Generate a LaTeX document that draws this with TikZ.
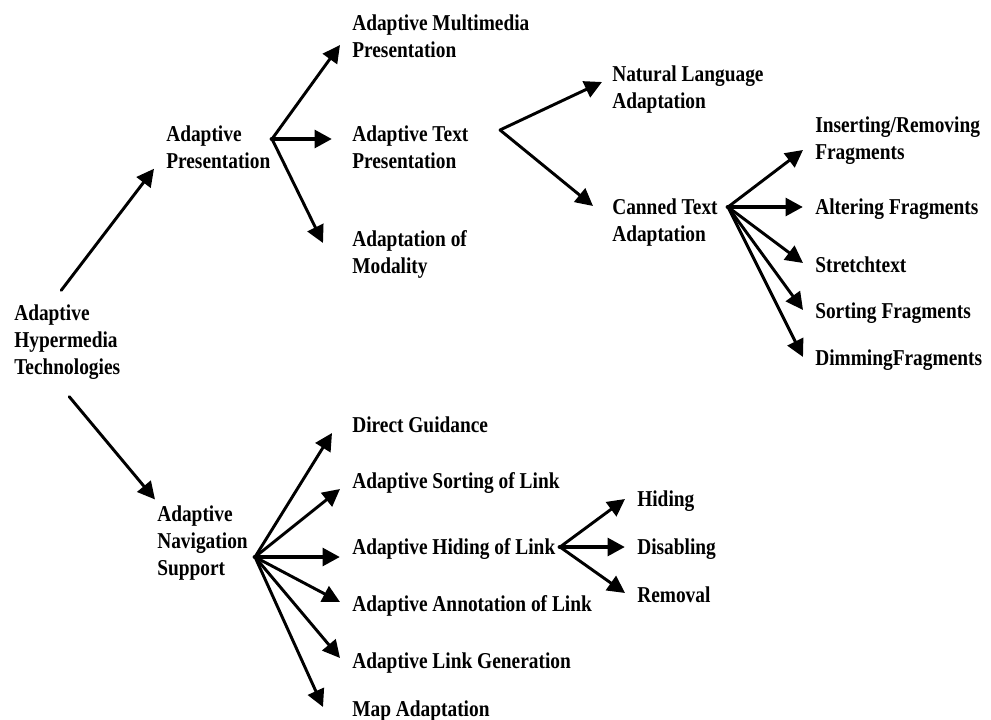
\documentclass[tikz,border=0pt]{standalone}
\usepackage{fontspec}
\setmainfont{Liberation Serif}[FakeStretch=0.855]
\usetikzlibrary{arrows.meta,calc}
\tikzset{
  lbl/.style={font=\bfseries\fontsize{17pt}{20.25pt}\selectfont,
            align=left,anchor=west,inner sep=0pt},
  br/.style={-{Triangle[length=13pt,width=13pt]},line width=2.2pt,line cap=round},
  brmain/.style={br,line width=3.6pt},
}

\begin{document}
\begin{tikzpicture}[x=0.75pt,y=-0.75pt]
  \useasboundingbox (0,0) rectangle (991,720);
  % levels 1 and 2
  \node[lbl] (aht) at (14,342)  {Adaptive\\Hypermedia\\Technologies};
  \node[lbl] (ap)  at (166,147) {Adaptive\\Presentation};
  \node[lbl] (ans) at (157,543) {Adaptive\\Navigation\\Support};
  % presentation side
  \node[lbl] (amp) at (352,36)  {Adaptive Multimedia\\Presentation};
  \node[lbl] (atp) at (352,147) {Adaptive Text\\Presentation};
  \node[lbl] (aom) at (352,254) {Adaptation of\\Modality};
  \node[lbl] (nla) at (612,89.5) {Natural Language\\Adaptation};
  \node[lbl] (cta) at (612,222.5) {Canned Text\\Adaptation};
  \node[lbl] (irf) at (815,140.5) {Inserting/Removing\\Fragments};
  \node[lbl] (alf) at (815,209) {Altering Fragments};
  \node[lbl] (stx) at (815,265) {Stretchtext};
  \node[lbl] (sof) at (815,313) {Sorting Fragments};
  \node[lbl] (dmf) at (815,360) {DimmingFragments};
  % navigation side
  \node[lbl] (dg)  at (352,425) {Direct Guidance};
  \node[lbl] (asl) at (352,483) {Adaptive Sorting of Link};
  \node[lbl] (ahl) at (352,549) {Adaptive Hiding of Link};
  \node[lbl] (aal) at (352,606) {Adaptive Annotation of Link};
  \node[lbl] (alg) at (352,663) {Adaptive Link Generation};
  \node[lbl] (mpa) at (352,711) {Map Adaptation};
  \node[lbl] (hid) at (637,501) {Hiding};
  \node[lbl] (dis) at (637,549) {Disabling};
  \node[lbl] (rem) at (637,595) {Removal};

  % fan origins
  \coordinate (apfan) at (272,139);
  \coordinate (atfan) at (500,130);
  \coordinate (ctfan) at (728,207);
  \coordinate (nsfan) at (255,557);
  \coordinate (hlfan) at (560,547);

  \draw[br] ($(aht.north)+(-6,-14)$) -- ($(ap.south west)+(-12,0)$);
  \draw[br] ($(aht.south)+(2,17)$) -- ($(ans.north west)+(-2,-6)$);

  \draw[br]     (apfan) -- ($(amp.west)+(-12,9)$);
  \draw[brmain] (apfan) -- ($(atp.west)+(-20,-8)$);
  \draw[br]     (apfan) -- ($(aom.west)+(-29,-11)$);

  \draw[br] (atfan) -- ($(nla.west)+(-10,-7.5)$);
  \draw[br] (atfan) -- ($(cta.west)+(-19,-16.5)$);

  \draw[br]     (ctfan) -- ($(irf.west)+(-12,9.5)$);
  \draw[brmain] (ctfan) -- ($(alf.west)+(-12,-2)$);
  \draw[br]     (ctfan) -- ($(stx.west)+(-12,-2)$);
  \draw[br]     (ctfan) -- ($(sof.west)+(-12,-3)$);
  \draw[br]     (ctfan) -- ($(dmf.west)+(-12,-3)$);

  \draw[br]     (nsfan) -- ($(dg.west)+(-20,8)$);
  \draw[br]     (nsfan) -- ($(asl.west)+(-12,6)$);
  \draw[brmain] (nsfan) -- ($(ahl.west)+(-12,8)$);
  \draw[br]     (nsfan) -- ($(aal.west)+(-12,-4)$);
  \draw[br]     (nsfan) -- ($(alg.west)+(-12,-5)$);
  \draw[br]     (nsfan) -- ($(mpa.west)+(-29,-4)$);

  \draw[br]     (hlfan) -- ($(hid.west)+(-12,-2)$);
  \draw[brmain] (hlfan) -- ($(dis.west)+(-12,-2)$);
  \draw[br]     (hlfan) -- ($(rem.west)+(-12,-2)$);
\end{tikzpicture}
\end{document}
